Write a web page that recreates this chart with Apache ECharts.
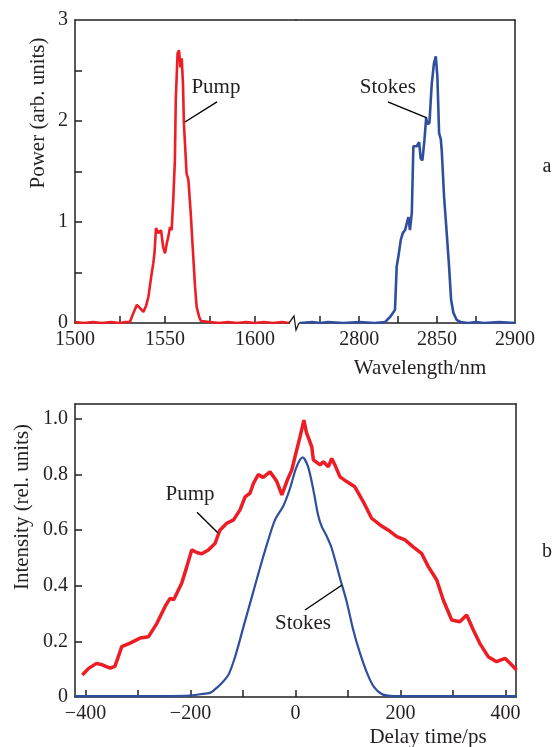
<!DOCTYPE html>
<html>
<head>
<meta charset="utf-8">
<script src="https://cdn.jsdelivr.net/npm/echarts@6/dist/echarts.min.js"></script>
<style>
  html, body { margin: 0; padding: 0; background: #fff; }
  #chart { width: 554px; height: 747px; }
</style>
</head>
<body>
<div id="chart"></div>
<script>
// spectra (panel a): [wavelength nm, power]
const pumpSpectrum = [
  [1500, 0.01], [1505, 0.0], [1510, 0.01], [1515, 0.0], [1520, 0.01], [1525, 0.0], [1528, 0.01],
  [1530.5, 0.01], [1532, 0.08], [1534.4, 0.18], [1536, 0.15], [1538, 0.11], [1539.5, 0.17],
  [1540.8, 0.26], [1542.6, 0.49], [1543.5, 0.59], [1544.2, 0.7], [1545, 0.94], [1546.3, 0.89],
  [1547.8, 0.92], [1549, 0.75], [1550, 0.69], [1551, 0.79], [1551.8, 0.85], [1552.8, 0.95],
  [1553.7, 0.92], [1554.6, 1.22], [1555.5, 1.61], [1556, 2.21], [1557, 2.67], [1557.8, 2.70],
  [1558.6, 2.53], [1559.3, 2.62], [1560, 2.37], [1560.5, 1.98], [1562, 1.48], [1563, 1.42],
  [1564.3, 1.09], [1565.4, 0.75], [1566.7, 0.36], [1567.6, 0.16], [1569, 0.06], [1570, 0.02],
  [1575, 0.01], [1580, 0.0], [1585, 0.01], [1590, 0.0], [1595, 0.01], [1600, 0.0], [1605, 0.01],
  [1610, 0.0], [1615, 0.01], [1619, 0.0]
]
const stokesSpectrum = [
  [2762, 0.0], [2770, 0.01], [2775, 0.0], [2780, 0.01], [2790, 0.0], [2800, 0.01], [2810, 0.0],
  [2816.7, 0.01], [2819.9, 0.06], [2823, 0.13], [2824.1, 0.56], [2825.2, 0.66], [2826.7, 0.82],
  [2828, 0.89], [2829.5, 0.92], [2830.6, 0.99], [2831.6, 1.05], [2832.6, 0.92], [2833.8, 1.09],
  [2834.8, 1.75], [2837, 1.75], [2838.5, 1.79], [2839.5, 1.63], [2840.6, 1.61], [2841.9, 1.81],
  [2843, 2.03], [2843.8, 1.97], [2845.1, 1.98], [2846.6, 2.37], [2848, 2.57], [2849.2, 2.64],
  [2850.2, 2.44], [2851.3, 1.88], [2852.4, 1.82], [2853, 1.71], [2854.5, 1.25], [2856.2, 0.89],
  [2857.7, 0.56], [2859, 0.23], [2860.5, 0.10], [2862.6, 0.03], [2865, 0.01], [2870, 0.0],
  [2875, 0.01], [2880, 0.0], [2890, 0.01], [2900, 0.0]
]

// autocorrelation (panel b): [delay ps, intensity]
const pumpDelay = [
  [-406, 0.079], [-394, 0.103], [-379, 0.121], [-367, 0.115], [-353, 0.104], [-344, 0.11],
  [-337.5, 0.145], [-331, 0.181], [-315, 0.194], [-296, 0.212], [-280, 0.217], [-264, 0.265],
  [-248.6, 0.325], [-239, 0.355], [-232, 0.35], [-216.8, 0.409], [-207, 0.469], [-197.7, 0.529],
  [-188, 0.52], [-178.6, 0.515], [-166, 0.529], [-153, 0.553], [-144, 0.60], [-131, 0.625],
  [-118, 0.637], [-105.7, 0.673], [-96, 0.72], [-86.7, 0.733], [-80, 0.769], [-71, 0.80],
  [-61.6, 0.79], [-48.6, 0.81], [-39, 0.785], [-35.6, 0.775], [-26, 0.727], [-15.6, 0.78],
  [-7, 0.817], [-1, 0.864], [8.6, 0.936], [16, 0.996], [21, 0.95], [24, 0.936], [31, 0.90],
  [34, 0.853], [46.7, 0.835], [53, 0.846], [62.5, 0.828], [69, 0.858], [75, 0.835], [84.8, 0.792],
  [97.5, 0.775], [113, 0.756], [129, 0.703], [145, 0.643], [161, 0.619], [177, 0.60], [193, 0.577],
  [208.6, 0.565], [224, 0.54], [240, 0.517], [253, 0.469], [269, 0.421], [281.5, 0.349],
  [297.5, 0.277], [313, 0.271], [326, 0.295], [338.7, 0.241], [351, 0.193], [367, 0.145],
  [383, 0.127], [399, 0.139], [412, 0.115], [421, 0.097]
]
const stokesDelay = [
  [-420, 0.003], [-300, 0.003], [-200, 0.005], [-182, 0.010], [-163, 0.015], [-153, 0.028],
  [-144, 0.043], [-128, 0.079], [-115, 0.145], [-99, 0.253], [-83, 0.361], [-67.6, 0.465],
  [-51.8, 0.565], [-39, 0.637], [-23, 0.688], [-10.5, 0.75], [2, 0.828], [13.7, 0.862],
  [24, 0.828], [34, 0.745], [43, 0.655], [50, 0.613], [59, 0.58], [69, 0.535], [84.8, 0.427],
  [97.5, 0.343], [110, 0.241], [123, 0.157], [136.6, 0.085], [149, 0.037], [164, 0.011],
  [180, 0.004], [200, 0.003], [300, 0.003], [420, 0.003]
]

// ticks and labels
const wlLeftTicks = [1525, 1550, 1575, 1600]
const wlLeftLabels = [1500, 1550, 1600]
const wlRightTicks = [2775, 2800, 2825, 2850, 2875]
const wlRightLabels = [2800, 2850, 2900]
const powerTicks = [0.5, 1, 1.5, 2, 2.5]
const powerLabels = [0, 1, 2, 3]
const delayTicks = [-400, -300, -200, -100, 0, 100, 200, 300, 400]
const delayLabels = [-400, -200, 0, 200, 400]
const intensityTicks = [0.2, 0.4, 0.6, 0.8, 1.0]
const intensityLabels = [0, 0.2, 0.4, 0.6, 0.8, 1.0]

// annotations in data coords: [text, textPos, lineFrom, lineTo, axis pair]
const notes = [
  ['Pump', [1578.3, 2.33], [1578.9, 2.19], [1561.1, 1.99], 0],
  ['Stokes', [2818.4, 2.33], [2818.4, 2.19], [2843.5, 2.03], 1],
  ['Pump', [-201, 0.727], [-187.6, 0.665], [-147.6, 0.59], 2],
  ['Stokes', [14.3, 0.266], [18.1, 0.313], [88.6, 0.403], 2]
]

const RED = '#ee1c25'
const BLUE = '#2f4f9e'
const INK = '#231f20'
const FONT = 'Liberation Serif'

const chart = echarts.init(document.getElementById('chart'))

const lineOnly = (extra) => Object.assign({
  type: 'value',
  axisLine: { show: true, onZero: false, lineStyle: { color: INK, width: 1.5 } },
  axisTick: { show: false },
  axisLabel: { show: false },
  splitLine: { show: false }
}, extra)

const ticked = (extra, ticks, labels, fmt) => Object.assign({
  type: 'value',
  axisLine: { show: true, onZero: false, lineStyle: { color: INK, width: 1.5 } },
  axisTick: { show: true, inside: true, length: 7, customValues: ticks, lineStyle: { color: INK, width: 1.5 } },
  axisLabel: {
    customValues: labels, color: INK, fontFamily: FONT, fontSize: 20, margin: 7,
    formatter: fmt || (v => String(v))
  },
  splitLine: { show: false }
}, extra)

const fmtIntensity = v => (v === 0 ? '0' : v.toFixed(1))
const fmtDelay = v => (v < 0 ? '\u2212' + Math.abs(v) : String(v))

const option = {
  animation: false,
  grid: [
    { left: 75, top: 20, width: 221, height: 303 },
    { left: 296, top: 20, width: 219, height: 303 },
    { left: 75, top: 404, width: 441, height: 293 }
  ],
  xAxis: [
    ticked({ gridIndex: 0, position: 'bottom', min: 1500, max: 1622.8 }, wlLeftTicks, wlLeftLabels),
    ticked({ gridIndex: 1, position: 'bottom', min: 2759.5, max: 2900 }, wlRightTicks, wlRightLabels),
    lineOnly({ gridIndex: 0, position: 'top', min: 1500, max: 1622.8 }),
    lineOnly({ gridIndex: 1, position: 'top', min: 2759.5, max: 2900 }),
    ticked({ gridIndex: 2, position: 'bottom', min: -420, max: 420 }, delayTicks, delayLabels, fmtDelay),
    lineOnly({ gridIndex: 2, position: 'top', min: -420, max: 420 })
  ],
  yAxis: [
    ticked({ gridIndex: 0, position: 'left', min: 0, max: 3 }, powerTicks, powerLabels),
    lineOnly({ gridIndex: 1, position: 'right', min: 0, max: 3 }),
    ticked({ gridIndex: 2, position: 'left', min: 0, max: 1.054 }, intensityTicks, intensityLabels, fmtIntensity),
    lineOnly({ gridIndex: 2, position: 'right', min: 0, max: 1.054 })
  ],
  series: [
    { type: 'line', xAxisIndex: 0, yAxisIndex: 0, data: pumpSpectrum, showSymbol: false,
      lineStyle: { color: RED, width: 2.6 } },
    { type: 'line', xAxisIndex: 1, yAxisIndex: 1, data: stokesSpectrum, showSymbol: false,
      lineStyle: { color: BLUE, width: 2.6 } },
    { type: 'line', xAxisIndex: 4, yAxisIndex: 2, data: pumpDelay, showSymbol: false,
      lineStyle: { color: RED, width: 3.5 } },
    { type: 'line', xAxisIndex: 4, yAxisIndex: 2, data: stokesDelay, showSymbol: false, smooth: 0.3,
      lineStyle: { color: BLUE, width: 2.2 } }
  ]
}

chart.setOption(option)

// axis titles, panel letters, break mark and annotations
const txt = (text, x, y, size, rot) => ({
  type: 'text', x: x, y: y, rotation: rot || 0, z: 10,
  style: { text: text, fill: INK, font: size + 'px "' + FONT + '"', align: 'center', verticalAlign: 'middle' }
})
const graphics = [
  txt('Power (arb. units)', 38, 113, 21, Math.PI / 2),
  txt('Wavelength/nm', 420, 368, 21),
  txt('a', 547, 167, 20),
  txt('Intensity (rel. units)', 22, 507, 21, Math.PI / 2),
  txt('Delay time/ps', 428, 737, 21),
  txt('b', 547, 552, 20)
]
// axis break between the two wavelength ranges
const brk = chart.convertToPixel({ xAxisIndex: 0, yAxisIndex: 0 }, [1622.8, 0])
graphics.push({
  type: 'rect', z: 9,
  shape: { x: brk[0] - 6, y: brk[1] - 3, width: 9, height: 6 },
  style: { fill: '#fff' }
})
graphics.push({
  type: 'polyline', z: 10,
  shape: { points: [[brk[0] - 7, brk[1]], [brk[0] - 2, brk[1] - 7], [brk[0], brk[1] + 7], [brk[0] + 3, brk[1]]] },
  style: { stroke: INK, lineWidth: 1.3, fill: 'none' }
})
const axisPairs = [[0, 0], [1, 1], [4, 2]]
notes.forEach(n => {
  const ax = axisPairs[n[4]]
  const finder = { xAxisIndex: ax[0], yAxisIndex: ax[1] }
  const t = chart.convertToPixel(finder, n[1])
  const a = chart.convertToPixel(finder, n[2])
  const b = chart.convertToPixel(finder, n[3])
  graphics.push(txt(n[0], t[0], t[1], 21))
  graphics.push({
    type: 'line', z: 10,
    shape: { x1: a[0], y1: a[1], x2: b[0], y2: b[1] },
    style: { stroke: '#000', lineWidth: 1.4 }
  })
})
chart.setOption({ graphic: graphics })
</script>
</body>
</html>
